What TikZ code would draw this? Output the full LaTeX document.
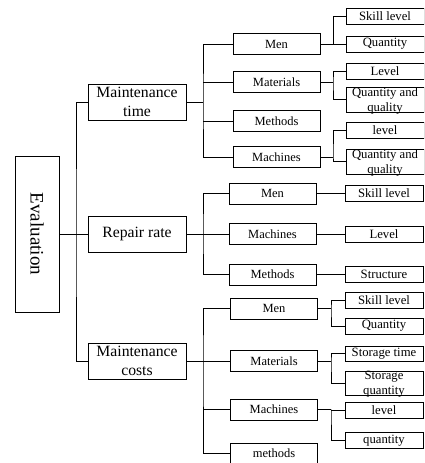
\documentclass[tikz,border=0pt]{standalone}
\usepackage{fontspec}
\setmainfont{Liberation Serif}
\begin{document}
\begin{tikzpicture}[x=1pt,y=-1pt,
  lbox/.style={draw, line width=0.8pt, inner sep=0pt, minimum width=98pt, minimum height=36pt, align=center, font=\fontsize{15.7}{18.5}\selectfont},
  mbox/.style={draw, line width=0.8pt, inner sep=0pt, minimum width=87pt, minimum height=21pt, font=\fontsize{12.5}{14}\selectfont},
  sbox/.style={draw, line width=0.8pt, inner sep=0pt, minimum width=78pt, minimum height=16pt, align=center, font=\fontsize{12.7}{14}\selectfont},
  tbox/.style={draw, line width=0.8pt, inner sep=0pt, minimum width=78pt, minimum height=25pt,
    label={[align=center, inner sep=0pt, yshift=-1.5pt, font=\fontsize{12.7}{15}\selectfont]center:#1}},
  link/.style={line width=0.8pt}]
\useasboundingbox (0,0) rectangle (424,463);
\clip (0,0) rectangle (424,463);

% root
\node[draw, line width=0.8pt, minimum width=44pt, minimum height=156pt, inner sep=0pt,
  label={[rotate=-90, font=\fontsize{19}{21}\selectfont]center:Evaluation}] (eval) at (37,234) {};

% level 1
\node[lbox] (mt) at (137,102) {Maintenance\\time};
\node[lbox] (rr) at (137,234) {Repair rate};
\node[lbox] (mc) at (137,361) {Maintenance\\costs};

% level 2 - maintenance time
\node[mbox] (a1) at (276.5,44) {Men};
\node[mbox] (a2) at (276.5,82) {Materials};
\node[mbox] (a3) at (276.5,121) {Methods};
\node[mbox] (a4) at (276.5,157) {Machines};
% level 2 - repair rate
\node[mbox] (b1) at (272.5,193.5) {Men};
\node[mbox] (b2) at (272.5,234) {Machines};
\node[mbox] (b3) at (272.5,274.5) {Methods};
% level 2 - maintenance costs
\node[mbox] (c1) at (274,308.5) {Men};
\node[mbox] (c2) at (274,361) {Materials};
\node[mbox] (c3) at (274,409.5) {Machines};
\node[mbox] (c4) at (274,453.5) {methods};

% level 3 - maintenance time
\node[sbox] (a1s) at (385,16) {Skill level};
\node[sbox] (a1q) at (385,44) {Quantity};
\node[sbox] (a2l) at (385,71) {Level};
\node[tbox={Quantity and\\quality}] (a2q) at (385,99.5) {};
\node[sbox] (a4l) at (385,130) {level};
\node[tbox={Quantity and\\quality}] (a4q) at (385,161.5) {};
% level 3 - repair rate
\node[sbox] (b1s) at (384,193.5) {Skill level};
\node[sbox] (b2l) at (384,234) {Level};
\node[sbox] (b3s) at (384,274.5) {Structure};
% level 3 - maintenance costs
\node[sbox] (c1s) at (384,300) {Skill level};
\node[sbox] (c1q) at (384,326) {Quantity};
\node[sbox, minimum height=15pt] (c2t) at (384,353.5) {Storage time};
\node[tbox={Storage\\quantity}, minimum height=24pt] (c2q) at (384,383) {};
\node[sbox] (c3l) at (384,410) {level};
\node[sbox] (c3q) at (384,440.5) {quantity};

% junctions
\coordinate (jt) at (76,234);
\coordinate (ja) at (203,102);
\coordinate (jb) at (203,234);
\coordinate (jc) at (203,361);
\coordinate (ja1) at (333,44);
\coordinate (ja2) at (333,82);
\coordinate (ja4) at (333,157);
\coordinate (jc1) at (331,308.5);
\coordinate (jc2) at (331,361);
\coordinate (jc3) at (331,409.5);

% root connectors
\draw[link] (eval.east) -- (rr.west);
\draw[link] (mt.west) -| (jt) |- (mc.west);

% maintenance time
\draw[link] (mt.east) -- (ja);
\draw[link] (a1.west) -| (ja) |- (a4.west);
\draw[link] (a2.west) -- (a2.west -| ja);
\draw[link] (a3.west) -- (a3.west -| ja);
\draw[link] (a1.east) -- (ja1);
\draw[link] (a1s.west) -| (ja1) |- (a1q.west);
\draw[link] (a2.east) -- (ja2);
\draw[link] (a2l.west) -| (ja2) |- (a2q.west);
\draw[link] (a4.east) -- (ja4);
\draw[link] (a4l.west) -| (ja4) |- (a4q.west);

% repair rate
\draw[link] (rr.east) -- (b2.west);
\draw[link] (b1.west) -| (jb) |- (b3.west);
\draw[link] (b1.east) -- (b1s.west);
\draw[link] (b2.east) -- (b2l.west);
\draw[link] (b3.east) -- (b3s.west);

% maintenance costs
\draw[link] (mc.east) -- (c2.west);
\draw[link] (c1.west) -| (jc) |- (c4.west);
\draw[link] (c3.west) -- (c3.west -| jc);
\draw[link] (c1.east) -- (jc1);
\draw[link] (c1s.west) -| (jc1) |- (c1q.west);
\draw[link] (c2.east) -- (jc2);
\draw[link] (c2t.west) -| (jc2) |- (c2q.west);
\draw[link] (c3.east) -- (jc3);
\draw[link] (c3l.west) -| (jc3) |- (c3q.west);
\end{tikzpicture}
\end{document}
